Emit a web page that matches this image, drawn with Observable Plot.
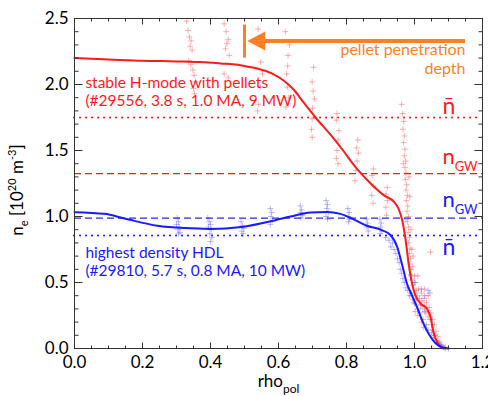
<!DOCTYPE html>
<html><head><meta charset="utf-8">
<script src="https://cdn.jsdelivr.net/npm/d3@7"></script>
<script src="https://cdn.jsdelivr.net/npm/@observablehq/plot@0.6"></script>
<style>
html,body{margin:0;padding:0;background:#fff;}
#chart svg{display:block;}
</style></head><body><div id="chart"></div>
<script>
// ---------- data ----------
const xMajorTicks = [0, 0.2, 0.4, 0.6, 0.8, 1.0, 1.2];
const xMinorTicks = [0.05,0.1,0.15,0.25,0.3,0.35,0.45,0.5,0.55,0.65,0.7,0.75,0.85,0.9,0.95,1.05,1.1,1.15];
const yMajorTicks = [0, 0.5, 1.0, 1.5, 2.0, 2.5];
const yMinorTicks = [0.1,0.2,0.3,0.4,0.6,0.7,0.8,0.9,1.1,1.2,1.3,1.4,1.6,1.7,1.8,1.9,2.1,2.2,2.3,2.4];

// H-mode with pellets (#29556) fitted profile
const redFitRho = [0, 0.1, 0.2, 0.3, 0.37, 0.43, 0.48, 0.51, 0.54, 0.58, 0.615, 0.645, 0.675, 0.709, 0.753, 0.79, 0.831, 0.871, 0.91, 0.94, 0.953, 0.964, 0.974, 0.983, 0.993, 1.003, 1.018, 1.037, 1.047, 1.056, 1.071, 1.085];
const redFitNe  = [2.20, 2.19, 2.18, 2.175, 2.17, 2.16, 2.15, 2.135, 2.12, 2.085, 2.03, 1.96, 1.86, 1.75, 1.62, 1.50, 1.36, 1.25, 1.16, 1.11, 1.06, 0.97, 0.82, 0.64, 0.49, 0.40, 0.34, 0.30, 0.24, 0.12, 0.03, 0.0];

// highest density HDL (#29810) fitted profile
const blueFitRho = [0, 0.088, 0.147, 0.244, 0.324, 0.40, 0.49, 0.588, 0.635, 0.694, 0.743, 0.782, 0.82, 0.86, 0.90, 0.929, 0.949, 0.964, 0.978, 0.993, 1.008, 1.023, 1.042, 1.062, 1.085, 1.10];
const blueFitNe  = [1.033, 1.02, 0.985, 0.93, 0.912, 0.906, 0.92, 0.97, 1.0, 1.03, 1.035, 1.02, 0.98, 0.93, 0.90, 0.86, 0.77, 0.63, 0.49, 0.40, 0.31, 0.21, 0.11, 0.04, 0.005, 0.0];

// measured points [rho_pol, n_e]
const redPoints = [
 [0.330,2.48],[0.334,2.41],[0.338,2.36],[0.343,2.33],[0.340,2.29],[0.346,2.26],[0.336,2.18],[0.342,2.15],[0.348,2.11],[0.352,2.07],[0.356,2.02],[0.350,1.97],[0.353,1.93],
 [0.440,2.46],[0.446,2.40],[0.452,2.34],[0.448,2.31],[0.444,2.27],[0.455,2.22],[0.440,2.08],[0.452,2.05],
 [0.540,2.42],[0.545,2.34],[0.548,2.17],[0.553,2.08],[0.546,1.98],[0.541,1.85],[0.538,1.80],
 [0.620,2.40],[0.632,2.30],[0.628,2.22],[0.627,2.14],[0.624,2.08],[0.626,1.98],[0.630,1.90],[0.622,1.83],
 [0.703,2.13],[0.699,2.02],[0.702,1.95],[0.706,1.89],[0.700,1.82],[0.699,1.74],[0.697,1.66],[0.699,1.60],
 [0.772,1.78],[0.770,1.73],[0.778,1.65],[0.775,1.58],[0.772,1.50],[0.770,1.44],[0.775,1.40],
 [0.833,1.58],[0.830,1.52],[0.835,1.48],[0.831,1.42],[0.828,1.35],[0.825,1.27],
 [0.879,1.36],[0.875,1.31],[0.879,1.23],[0.874,1.16],[0.878,1.10],
 [0.920,1.22],[0.916,1.17],[0.920,1.12],[0.916,1.07],[0.918,1.01],
 [0.962,1.85],[0.965,1.78],[0.968,1.72],[0.966,1.66],[0.970,1.61],[0.968,1.56],[0.972,1.51],[0.970,1.46],[0.974,1.42],[0.972,1.37],[0.975,1.33],[0.973,1.28],[0.977,1.24],[0.975,1.20],[0.979,1.16],[0.976,1.12],[0.980,1.08],[0.978,1.04],[0.982,1.00],[0.979,0.96],[0.983,0.92],[0.981,0.88],[0.985,0.84],[0.983,0.80],[0.987,0.76],[0.985,0.72],[0.989,0.68],[0.986,0.64],[0.990,0.60],[0.988,0.56],[0.992,0.52],[0.995,0.48],[0.984,1.30],[0.986,1.15],[0.967,1.40],[0.990,0.90],[0.992,0.75],[0.975,0.98],
 [0.995,0.62],[1.000,0.55],[1.003,0.50],[1.005,0.44],[1.008,0.40],[1.012,0.45],[1.015,0.38],[1.018,0.33],[1.020,0.42],[1.022,0.36],[1.025,0.30],[1.028,0.38],[1.030,0.32],[1.033,0.27],[1.035,0.35],[1.038,0.29],[1.040,0.24],[1.043,0.31],[1.046,0.22],[1.048,0.27],[1.050,0.18],[1.053,0.22],[1.055,0.14],[1.058,0.18],[1.060,0.10],[1.063,0.13],[1.066,0.06],[1.069,0.09],[1.072,0.03],[1.075,0.05],[1.080,0.02],[1.085,0.01],[1.090,0.0],[0.998,0.35],[1.002,0.28],[0.990,0.40],[1.010,0.25],[1.020,0.20],[1.047,0.73],[1.030,0.45],[1.040,0.40],[1.010,0.55],[0.996,0.70],[1.026,0.16]
];
const bluePoints = [
 [0.302,0.99],[0.306,0.96],[0.300,0.94],[0.308,0.92],[0.304,0.90],[0.310,0.88],[0.306,0.87],
 [0.392,0.99],[0.396,0.96],[0.400,0.94],[0.394,0.92],[0.402,0.90],[0.398,0.87],[0.404,0.84],[0.400,0.81],
 [0.490,0.96],[0.494,0.93],[0.498,0.91],[0.492,0.89],[0.496,0.87],
 [0.576,1.06],[0.580,1.03],[0.578,1.00],[0.582,0.97],[0.576,0.94],
 [0.664,1.08],[0.668,1.05],[0.665,1.03],[0.670,1.01],[0.666,0.99],
 [0.740,1.12],[0.744,1.09],[0.742,1.06],[0.746,1.03],[0.740,1.00],[0.744,0.98],
 [0.804,1.06],[0.808,1.03],[0.805,1.00],[0.809,0.98],[0.806,0.96],
 [0.858,0.98],[0.862,0.95],[0.860,0.92],[0.864,0.89],
 [0.898,0.98],[0.902,0.95],[0.900,0.92],[0.904,0.89],[0.899,0.87],
 [0.915,0.84],[0.925,0.82],[0.935,0.80],[0.930,0.77],[0.940,0.75],[0.945,0.72],[0.950,0.68],[0.955,0.65],[0.958,0.60],[0.962,0.57],[0.966,0.53],[0.970,0.50],[0.975,0.46],[0.980,0.44],[0.985,0.40],[0.990,0.42],[0.995,0.37],[1.000,0.34],[1.005,0.38],[1.010,0.30],[1.015,0.27],[1.020,0.33],[1.025,0.22],[1.030,0.28],[1.035,0.18],[1.040,0.44],[1.045,0.42],[1.050,0.12],[1.040,0.14],[1.055,0.08],[1.060,0.10],[1.065,0.05],[1.070,0.04],[1.075,0.03],[1.080,0.02],[1.090,0.01],[1.100,0.0],[1.020,0.45],[1.030,0.40],[1.000,0.50],[0.990,0.55]
];

// reference densities
const redNbar = 1.75, redNgw = 1.325;
const blueNgw = 0.988, blueNbar = 0.856;
// pellet penetration depth
const pelletDepth = 0.5;

// ---------- styling ----------
const RED = "#ff1a1a", BLUE = "#1a1aff", ORANGE = "#ff7f24", AXIS = "#333";
const FONT = "Lato, 'Open Sans', sans-serif";

const redFit = redFitRho.map((r, i) => ({rho: r, ne: redFitNe[i]}));
const blueFit = blueFitRho.map((r, i) => ({rho: r, ne: blueFitNe[i]}));

const plusSymbol = {draw(ctx, size) { const r = Math.sqrt(size / Math.PI); ctx.moveTo(-r, 0); ctx.lineTo(r, 0); ctx.moveTo(0, -r); ctx.lineTo(0, r); }};
const lineShape = {draw(ctx, l) { ctx.moveTo(0, 0); ctx.lineTo(0, -l); }};
const headShape = {draw(ctx, l) { ctx.moveTo(0, 0); ctx.lineTo(-9.5, -l); ctx.lineTo(9.5, -l); ctx.closePath(); }};

const tickMarks = (vals, side, len) => {
  const o = {length: len, anchor: "start", shape: lineShape, stroke: AXIS, strokeWidth: 1, strokeLinecap: "butt"};
  if (side === "left")   return Plot.vector(vals, {...o, x: 0,   y: d => d, rotate: 90});
  if (side === "right")  return Plot.vector(vals, {...o, x: 1.2, y: d => d, rotate: -90});
  if (side === "bottom") return Plot.vector(vals, {...o, y: 0,   x: d => d, rotate: 0});
  return Plot.vector(vals, {...o, y: 2.5, x: d => d, rotate: 180});
};

const chart = Plot.plot({
  width: 488, height: 396,
  marginLeft: 74, marginRight: 6, marginTop: 18, marginBottom: 48,
  x: {domain: [0, 1.2]},
  y: {domain: [0, 2.5]},
  style: {fontFamily: FONT, fontSize: "17px", color: "#000", background: "#fff"},
  marks: [
    Plot.dot(redPoints, {x: d => d[0], y: d => d[1], symbol: plusSymbol, r: 3, fill: "none", stroke: "#ff4040", strokeOpacity: 0.4, strokeWidth: 1}),
    Plot.dot(bluePoints, {x: d => d[0], y: d => d[1], symbol: plusSymbol, r: 3, fill: "none", stroke: "#5050ff", strokeOpacity: 0.4, strokeWidth: 1}),
    Plot.ruleY([redNbar], {stroke: RED, strokeWidth: 2, strokeDasharray: "0.1,5.9", strokeLinecap: "round"}),
    Plot.ruleY([redNgw], {stroke: RED, strokeWidth: 1.3, strokeDasharray: "7,4"}),
    Plot.ruleY([blueNgw], {stroke: "#2a2ae0", strokeWidth: 1.3, strokeDasharray: "7,4"}),
    Plot.ruleY([blueNbar], {stroke: BLUE, strokeWidth: 2, strokeDasharray: "0.1,5.9", strokeLinecap: "round"}),
    Plot.line(redFit, {x: "rho", y: "ne", stroke: RED, strokeWidth: 2, curve: "monotone-x"}),
    Plot.line(blueFit, {x: "rho", y: "ne", stroke: BLUE, strokeWidth: 2, curve: "monotone-x"}),
    // pellet penetration marker
    Plot.ruleX([pelletDepth], {y1: 2.2, y2: 2.45, stroke: ORANGE, strokeWidth: 3}),
    Plot.ruleY([2.33], {x1: pelletDepth + 0.04, x2: 1.15, stroke: ORANGE, strokeWidth: 4}),
    Plot.vector([pelletDepth + 0.008], {x: d => d, y: 2.33, rotate: 90, length: 18, anchor: "start", shape: headShape, fill: ORANGE, stroke: "none"}),
    Plot.text(["pellet penetration"], {x: 1.15, y: 2.22, text: d => d, textAnchor: "end", lineAnchor: "bottom", fill: ORANGE, fontSize: 16}),
    Plot.text(["depth"], {x: 1.15, y: 2.08, text: d => d, textAnchor: "end", lineAnchor: "bottom", fill: ORANGE, fontSize: 16}),
    // case labels
    Plot.text(["stable H-mode with pellets"], {x: 0.032, y: 1.975, text: d => d, textAnchor: "start", lineAnchor: "bottom", fill: RED, fontSize: 15.5}),
    Plot.text(["(#29556, 3.8 s, 1.0 MA, 9 MW)"], {x: 0.032, y: 1.84, text: d => d, textAnchor: "start", lineAnchor: "bottom", fill: RED, fontSize: 15.5}),
    Plot.text(["highest density HDL"], {x: 0.032, y: 0.684, text: d => d, textAnchor: "start", lineAnchor: "bottom", fill: BLUE, fontSize: 15.5}),
    Plot.text(["(#29810, 5.7 s, 0.8 MA, 10 MW)"], {x: 0.032, y: 0.553, text: d => d, textAnchor: "start", lineAnchor: "bottom", fill: BLUE, fontSize: 15.5}),
    // reference density labels
    Plot.text(["n\u0304"], {x: 1.082, y: 1.778, text: d => d, textAnchor: "start", lineAnchor: "bottom", fill: RED, fontSize: 23}),
    Plot.text(["nGWr"], {x: 1.082, y: 1.40, text: d => d, textAnchor: "start", lineAnchor: "bottom", fill: RED, fontSize: 22}),
    Plot.text(["nGWb"], {x: 1.082, y: 1.07, text: d => d, textAnchor: "start", lineAnchor: "bottom", fill: BLUE, fontSize: 22}),
    Plot.text(["n\u0304 "], {x: 1.082, y: 0.705, text: d => d, textAnchor: "start", lineAnchor: "bottom", fill: BLUE, fontSize: 23}),
    // frame, ticks, axes
    Plot.frame({stroke: AXIS, strokeWidth: 1}),
    tickMarks(yMajorTicks, "left", 8), tickMarks(yMinorTicks, "left", 4),
    tickMarks(yMajorTicks, "right", 8), tickMarks(yMinorTicks, "right", 4),
    tickMarks(xMajorTicks, "bottom", 6), tickMarks(xMinorTicks, "bottom", 3),
    tickMarks(xMajorTicks, "top", 6), tickMarks(xMinorTicks, "top", 3),
    Plot.axisX({ticks: xMajorTicks, tickSize: 0, tickPadding: 7, tickFormat: d => d.toFixed(1), label: null, fontSize: 17}),
    Plot.axisY({ticks: yMajorTicks, tickSize: 0, tickPadding: 6, tickFormat: d => d.toFixed(1), label: null, fontSize: 17}),
    Plot.text(["YLABEL"], {y: 1.2, frameAnchor: "left", dx: -52, rotate: -90, text: d => d, textAnchor: "middle", lineAnchor: "bottom", fontSize: 17}),
    Plot.text(["XLABEL"], {x: 0.6, frameAnchor: "bottom", dy: 38, text: d => d, textAnchor: "middle", lineAnchor: "bottom", fontSize: 17})
  ]
});

function rich(svg, key, parts) {
  d3.select(svg).selectAll("text").filter(function () { return this.textContent === key; }).each(function () {
    const el = d3.select(this);
    el.text(null);
    let cur = 0;
    for (const [s, shift, size] of parts) {
      const ts = el.append("tspan").text(s);
      const target = shift || 0;
      if (target !== cur) { ts.attr("dy", target - cur); cur = target; }
      if (size) ts.attr("font-size", size);
    }
  });
}
rich(chart, "YLABEL", [["n", 0], ["e", 5, 11], [" [10", 0], ["20", -7, 11], [" m", 0], ["-3", -7, 11], ["]", 0]]);
rich(chart, "XLABEL", [["rho", 0], ["pol", 6, 12]]);
rich(chart, "nGWr", [["n", 0], ["GW", 7, 13]]);
rich(chart, "nGWb", [["n", 0], ["GW", 7, 13]]);

document.getElementById("chart").appendChild(chart);
</script></body></html>
